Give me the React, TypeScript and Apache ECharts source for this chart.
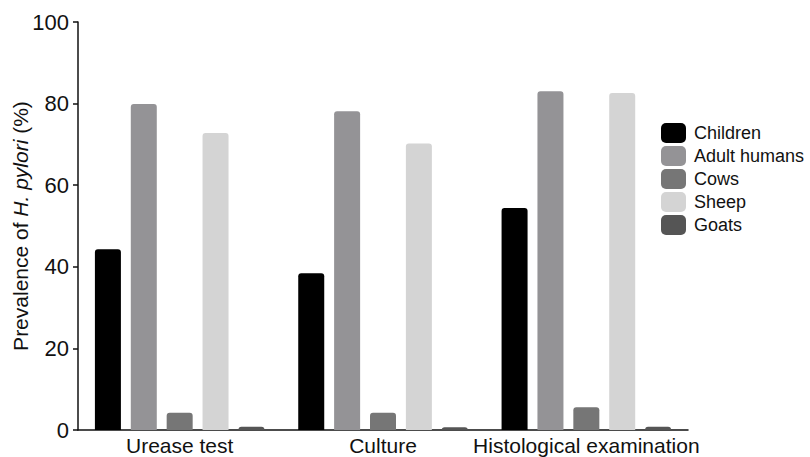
import React, { useEffect, useRef } from "react";
import * as echarts from "echarts";

const categories = ["Urease test", "Culture", "Histological examination"];
const seriesNames = ["Children", "Adult humans", "Cows", "Sheep", "Goats"];
const children = [44.3, 38.4, 54.4];
const adultHumans = [79.9, 78.1, 83.0];
const cows = [4.2, 4.2, 5.6];
const sheep = [72.8, 70.2, 82.6];
const goats = [0.8, 0.7, 0.8];
const yTicks = [0, 20, 40, 60, 80, 100];

const seriesData = [children, adultHumans, cows, sheep, goats];
const colors = ["#000000", "#949396", "#767676", "#d4d4d4", "#555555"];

export default function App() {
  const ref = useRef<HTMLDivElement>(null);
  useEffect(() => {
    const chart = echarts.init(ref.current!, null, { renderer: "svg" });
    const font = "'Liberation Sans', Arial, sans-serif";
    chart.setOption({
      animation: false,
      textStyle: { fontFamily: font },
      grid: {
        left: 78,
        right: 122,
        top: 22,
        bottom: 27,
        containLabel: false,
        outerBoundsMode: "none",
      },
      legend: {
        orient: "vertical",
        left: 656,
        top: 118,
        itemWidth: 25,
        itemHeight: 20,
        itemGap: 3,
        icon: "roundRect",
        data: seriesNames,
        textStyle: { fontSize: 18, color: "#111", fontFamily: font, padding: [0, 0, 0, 3] },
      },
      xAxis: {
        type: "category",
        data: categories,
        boundaryGap: true,
        axisLine: { lineStyle: { color: "#111", width: 1.5 } },
        axisTick: { alignWithLabel: true, length: 5, lineStyle: { color: "#111", width: 1.5 } },
        axisLabel: { fontSize: 21, color: "#111", margin: 5, fontFamily: font, interval: 0 },
      },
      yAxis: {
        type: "value",
        min: yTicks[0],
        max: yTicks[yTicks.length - 1],
        interval: 20,
        name: "Prevalence of {i|H. pylori} (%)",
        nameLocation: "middle",
        nameGap: 47,
        nameRotate: 90,
        nameMoveOverlap: false,
        nameTextStyle: {
          fontSize: 21,
          color: "#111",
          fontFamily: font,
          rich: { i: { fontSize: 21, fontStyle: "italic", color: "#111", fontFamily: font } },
        },
        splitLine: { show: false },
        axisLine: { show: true, lineStyle: { color: "#111", width: 1.5 } },
        axisTick: { show: true, length: 5, lineStyle: { color: "#111", width: 1.5 } },
        axisLabel: { fontSize: 22, color: "#111", margin: 9, fontFamily: font },
      },
      series: seriesNames.map((name, i) => ({
        name,
        type: "bar",
        data: seriesData[i],
        barWidth: 26,
        barGap: "38%",
        itemStyle: { color: colors[i], borderRadius: [3, 3, 0, 0] },
      })),
    });
    return () => chart.dispose();
  }, []);
  return (
    <div
      ref={ref}
      style={{ position: "fixed", left: 0, top: 0, width: 810, height: 457, background: "#fff" }}
    />
  );
}
